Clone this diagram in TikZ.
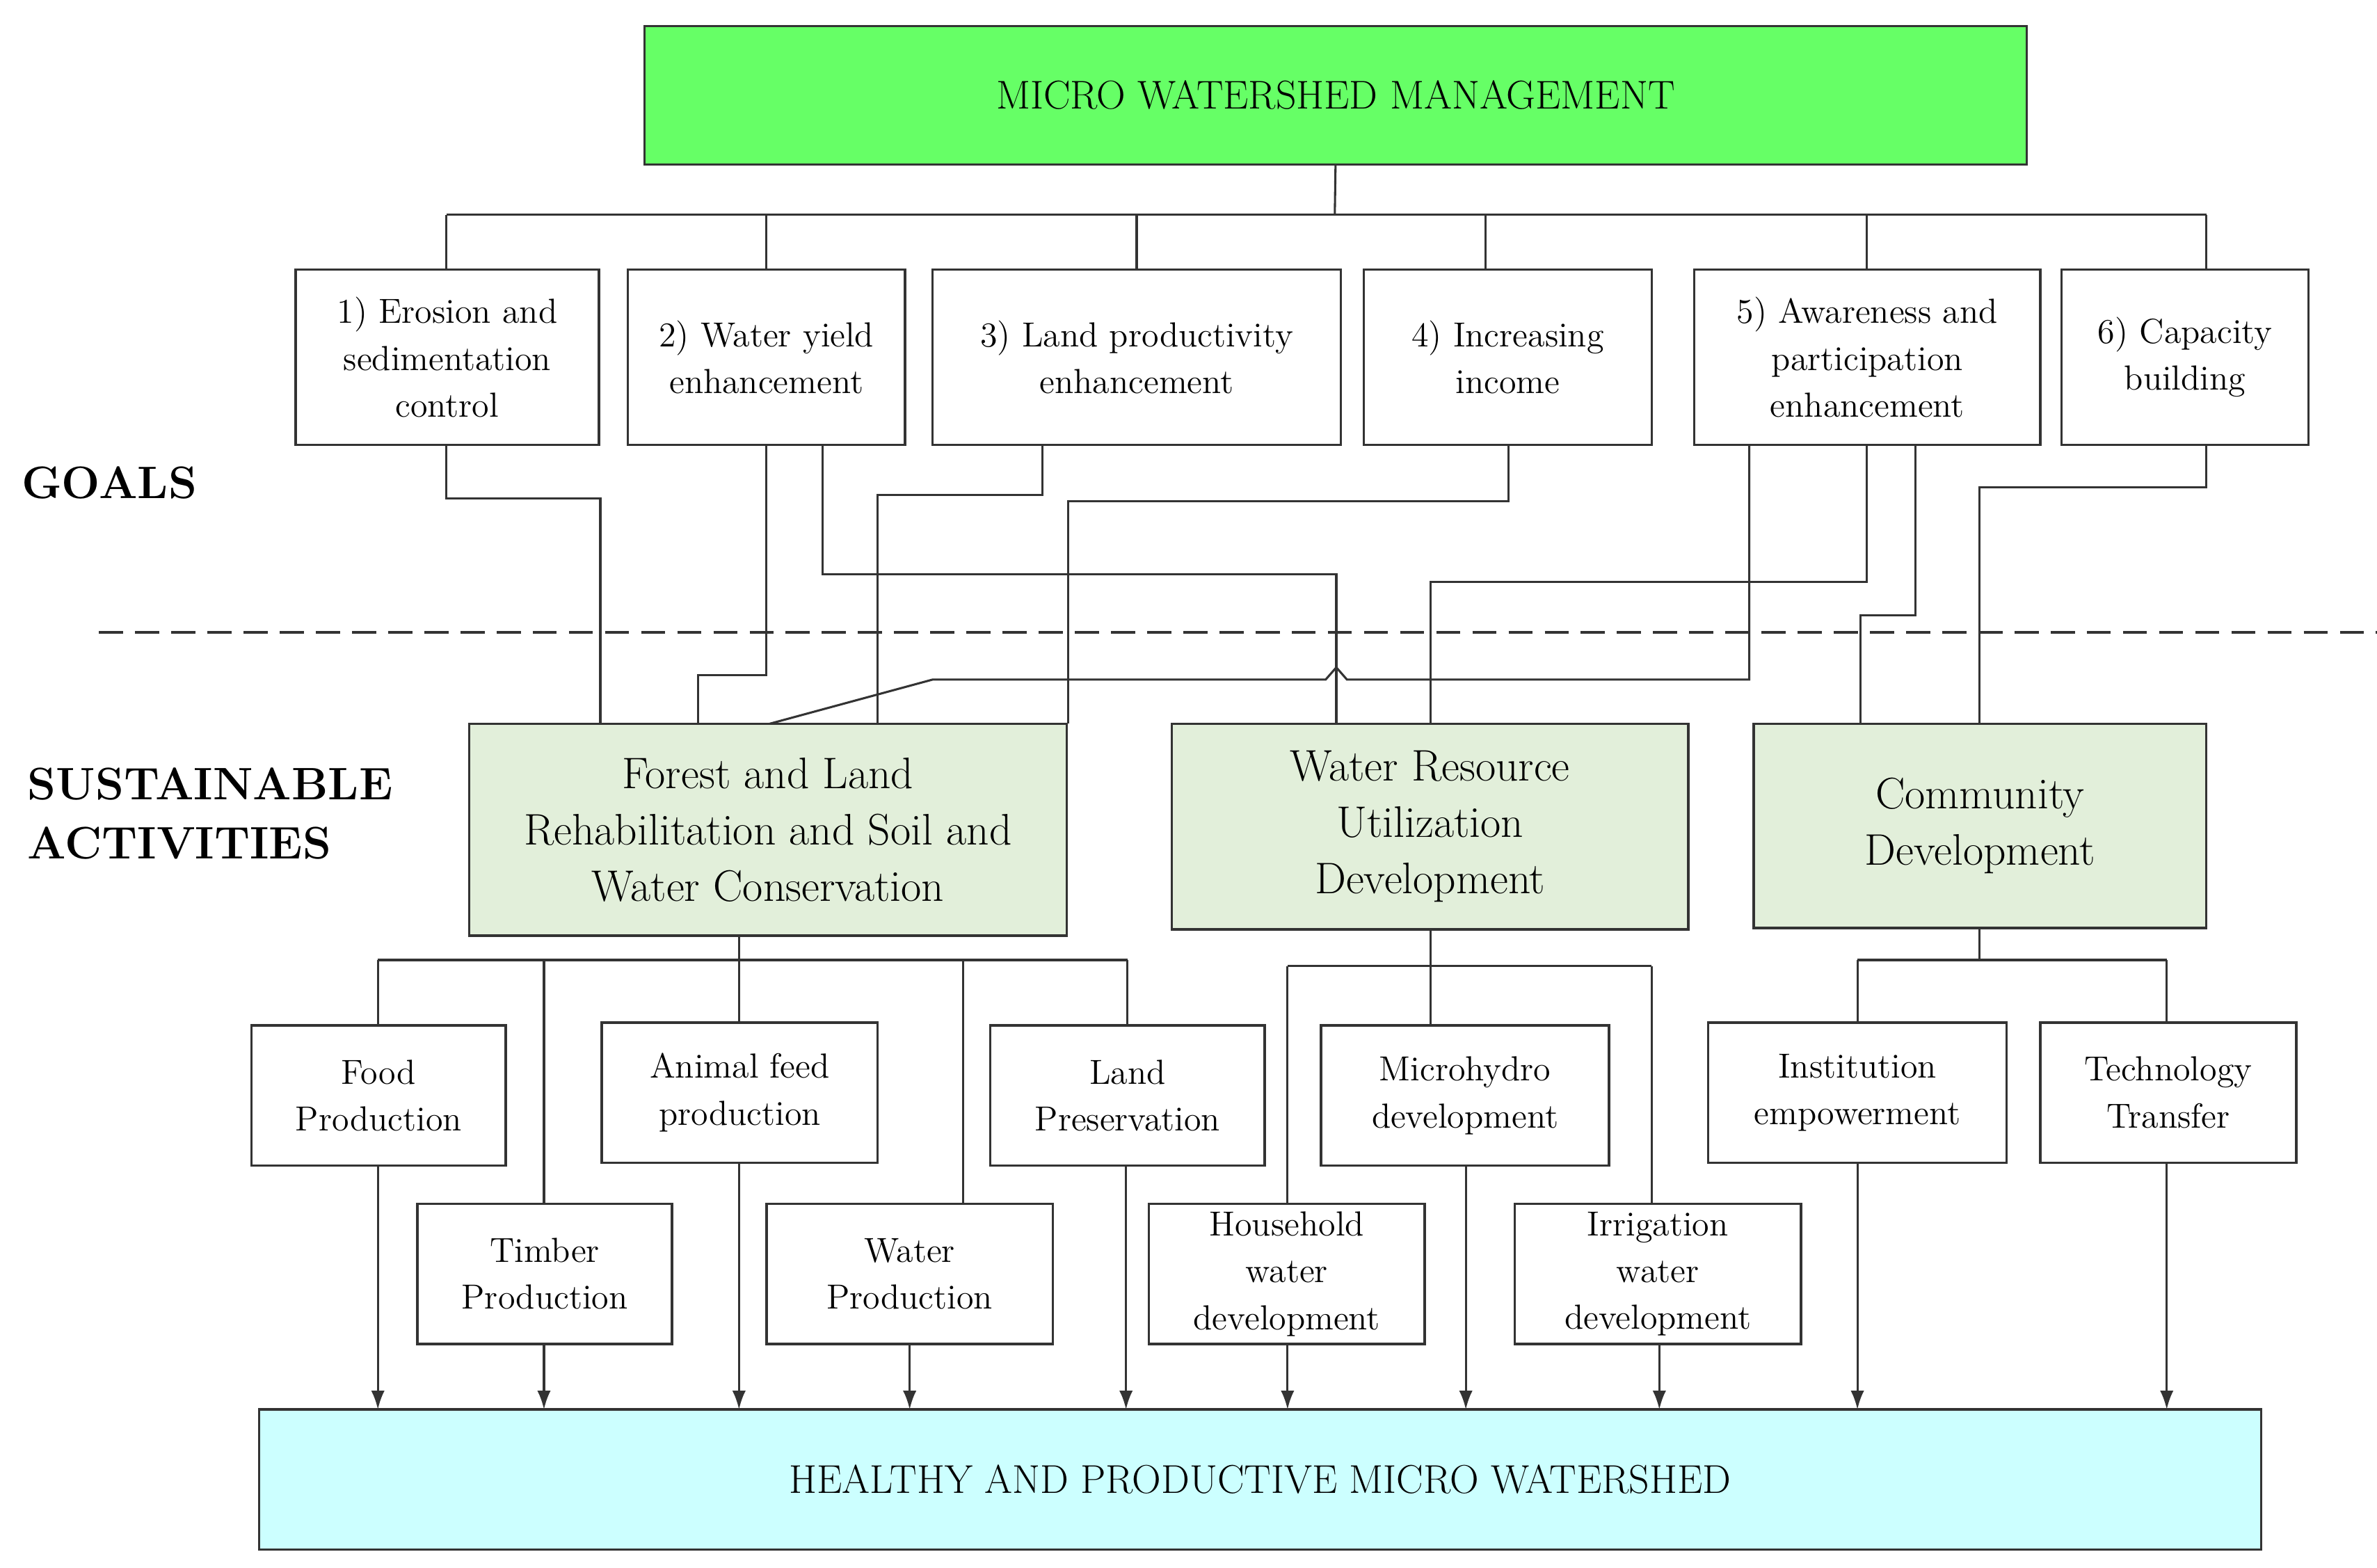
\documentclass[tikz,border=0pt]{standalone}
\usetikzlibrary{arrows.meta}
\begin{document}
\begin{tikzpicture}[x=0.02cm,y=-0.02cm,
  box/.style={draw=black!80,line width=0.9pt,inner sep=0pt,outer sep=0pt,align=center,font=\fontsize{13}{17.5}\selectfont},
  act/.style={box,fill=actc,font=\fontsize{16.5}{21}\selectfont},
  ln/.style={draw=black!80,line width=0.8pt},
  ar/.style={ln,-{Latex[length=7pt,width=5pt]}}]
\definecolor{actc}{HTML}{E2EFDA}
\definecolor{topc}{HTML}{66FF66}
\definecolor{botc}{HTML}{CCFFFF}
\useasboundingbox (0,0) rectangle (1560,1029);
\newcommand{\bx}[7][box]{\node[#1,minimum width={(#5-#3)*0.02cm},minimum height={(#6-#4)*0.02cm}] (#2) at ({(#3+#5)/2},{(#4+#6)/2}) {#7};}
\bx[box,fill=topc,font=\fontsize{15}{18}\selectfont]{top}{423}{17}{1330}{108}{MICRO WATERSHED MANAGEMENT}
\bx{g1}{194}{177}{393}{292}{1) Erosion and\\sedimentation\\control}
\bx{g2}{412}{177}{594}{292}{2) Water yield\\enhancement}
\bx{g3}{612}{177}{880}{292}{3) Land productivity\\enhancement}
\bx{g4}{895}{177}{1084}{292}{4) Increasing\\income}
\bx{g5}{1112}{177}{1339}{292}{5) Awareness and\\participation\\enhancement}
\bx{g6}{1353}{177}{1515}{292}{6) Capacity\\building}
\node[anchor=west,font=\fontsize{17}{20}\selectfont\bfseries] (lg) at (8,317) {GOALS};
\node[anchor=west,align=left,font=\fontsize{17}{22}\selectfont\bfseries] (ls) at (12,534) {SUSTAINABLE\\ACTIVITIES};
\draw[ln,dash pattern=on 9pt off 4.5pt,line width=1pt] (65,415) -- (1560,415);
\bx[act]{f}{308}{475}{700}{614}{Forest and Land\\Rehabilitation and Soil and\\Water Conservation}
\bx[act]{w}{769}{475}{1108}{610}{Water Resource\\Utilization\\Development}
\bx[act]{c}{1151}{475}{1448}{609}{Community\\Development}
\bx{a1}{165}{673}{332}{765}{Food\\Production}
\bx{a2}{274}{790}{441}{882}{Timber\\Production}
\bx{a3}{395}{671}{576}{763}{Animal feed\\production}
\bx{a4}{503}{790}{691}{882}{Water\\Production}
\bx{a5}{650}{673}{830}{765}{Land\\Preservation}
\bx{a6}{754}{790}{935}{882}{Household\\water\\development}
\bx{a7}{867}{673}{1056}{765}{Microhydro\\development}
\bx{a8}{994}{790}{1182}{882}{Irrigation\\water\\development}
\bx{a9}{1121}{671}{1317}{763}{Institution\\empowerment}
\bx{a10}{1339}{671}{1507}{763}{Technology\\Transfer}
\bx[box,fill=botc,font=\fontsize{15}{18}\selectfont]{bot}{170}{925}{1484}{1017}{HEALTHY AND PRODUCTIVE MICRO WATERSHED}
% top bus
\draw[ln] (top.south) -- (876,141);
\draw[ln] (293,141) -- (1448,141);
\foreach \x in {293,503,746,975,1225,1448}{\draw[ln] (\x,141) -- (\x,177);}
% goals -> activities
\draw[ln] (293,292) |- (394,327) -- (394,475);
\draw[ln] (503,292) |- (458,443) -- (458,475);
\draw[ln] (540,292) |- (877,377) -- (877,475);
\draw[ln] (684,292) |- (576,325) -- (576,475);
\draw[ln] (990,292) |- (701,329) -- (701,475);
\draw[ln] (1148,292) -- (1148,446) -- (884,446) -- (877,438) -- (870,446) -- (612,446) -- (505,475);
\draw[ln] (1225,292) |- (939,382) -- (939,475);
\draw[ln] (1257,292) |- (1221,404) -- (1221,475);
\draw[ln] (1448,292) |- (1299,320) -- (1299,475);
% activities -> subactivities
\draw[ln] (485,614) -- (485,630);
\draw[ln] (248,630) -- (740,630);
\draw[ln] (248,630) -- (248,673);
\draw[ln] (357,630) -- (357,790);
\draw[ln] (485,630) -- (485,671);
\draw[ln] (632,630) -- (632,790);
\draw[ln] (740,630) -- (740,673);
\draw[ln] (939,610) -- (939,673);
\draw[ln] (845,634) -- (1084,634);
\draw[ln] (845,634) -- (845,790);
\draw[ln] (1084,634) -- (1084,790);
\draw[ln] (1299,609) -- (1299,630);
\draw[ln] (1219,630) -- (1422,630);
\draw[ln] (1219,630) -- (1219,671);
\draw[ln] (1422,630) -- (1422,671);
% arrows to bottom
\foreach \x/\y in {248/765,357/882,485/763,597/882,739/765,845/882,962/765,1089/882,1219/763,1422/763}{\draw[ar] (\x,\y) -- (\x,925);}
\end{tikzpicture}
\end{document}
